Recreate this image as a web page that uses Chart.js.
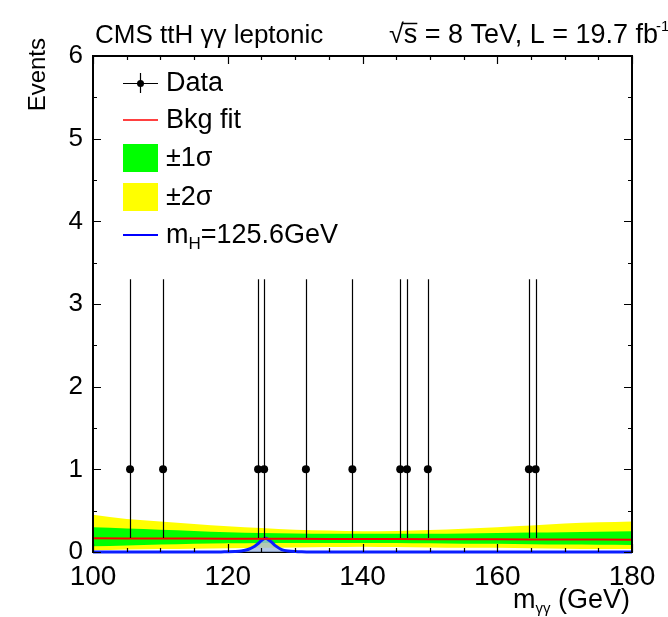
<!DOCTYPE html>
<html>
<head>
<meta charset="utf-8">
<script src="https://cdn.jsdelivr.net/npm/chart.js@4/dist/chart.umd.min.js"></script>
<style>
  body { margin: 0; background: #fff; }
  canvas { display: block; }
</style>
</head>
<body>
<canvas id="mggChart" width="668" height="617"></canvas>
<script>
// observed diphoton events (one per entry) with asymmetric Poisson errors
const dataMass = [105.5, 110.4, 124.5, 125.4, 131.6, 138.5, 145.6, 146.6, 149.7, 164.7, 165.7];
const dataEvents = [1, 1, 1, 1, 1, 1, 1, 1, 1, 1, 1];
const dataErrLow = [0.83, 0.83, 0.83, 0.83, 0.83, 0.83, 0.83, 0.83, 0.83, 0.83, 0.83];
const dataErrHigh = [2.30, 2.30, 2.30, 2.30, 2.30, 2.30, 2.30, 2.30, 2.30, 2.30, 2.30];

// background fit and its uncertainty bands
const bkgMass = [100, 105, 110, 115, 120, 125, 130, 135, 140, 145, 150, 155, 160, 165, 170, 175, 180];
const bkgFit = [0.165, 0.164, 0.163, 0.162, 0.161, 0.160, 0.159, 0.158, 0.157, 0.156, 0.155, 0.154, 0.153, 0.152, 0.151, 0.150, 0.149];
const oneSigmaUp = [0.30, 0.285, 0.27, 0.255, 0.24, 0.23, 0.225, 0.22, 0.22, 0.22, 0.22, 0.225, 0.23, 0.235, 0.24, 0.245, 0.25];
const oneSigmaDown = [0.07, 0.08, 0.09, 0.10, 0.105, 0.11, 0.11, 0.11, 0.11, 0.11, 0.105, 0.10, 0.10, 0.095, 0.09, 0.088, 0.085];
const twoSigmaUp = [0.45, 0.40, 0.37, 0.34, 0.31, 0.29, 0.27, 0.26, 0.25, 0.255, 0.265, 0.28, 0.30, 0.32, 0.345, 0.36, 0.37];
const twoSigmaDown = [0.02, 0.03, 0.035, 0.04, 0.045, 0.05, 0.055, 0.06, 0.065, 0.06, 0.055, 0.05, 0.05, 0.045, 0.04, 0.037, 0.035];

// signal shape for mH = 125.6 GeV
const sigMass = [100, 118, 119, 120, 121, 122, 123, 124, 124.5, 125, 125.6, 126, 126.5, 127, 128, 129, 130, 131, 132, 133, 180];
const sigEvents = [0, 0, 0.001, 0.003, 0.006, 0.012, 0.03, 0.07, 0.10, 0.14, 0.165, 0.15, 0.12, 0.08, 0.03, 0.012, 0.005, 0.002, 0.001, 0, 0];

const xTickLabels = [100, 120, 140, 160, 180];
const yTickLabels = [0, 1, 2, 3, 4, 5, 6];

const FONT = '"Liberation Sans", Arial, Helvetica, sans-serif';

function pts(xs, ys) {
    return xs.map((x, i) => ({ x: x, y: ys[i] }));
}

// vertical error bars on the data points
const errorBars = {
    id: 'errorBars',
    afterDatasetsDraw(chart) {
        const ctx = chart.ctx;
        const xs = chart.scales.x, ys = chart.scales.y;
        ctx.save();
        ctx.strokeStyle = '#000';
        ctx.lineWidth = 1.2;
        dataMass.forEach((m, i) => {
            const px = Math.round(xs.getPixelForValue(m)) + 0.5;
            ctx.beginPath();
            ctx.moveTo(px, ys.getPixelForValue(dataEvents[i] - dataErrLow[i]));
            ctx.lineTo(px, ys.getPixelForValue(dataEvents[i] + dataErrHigh[i]));
            ctx.stroke();
        });
        ctx.restore();
    }
};

// ROOT style frame with inward ticks on all four sides
const frame = {
    id: 'frame',
    beforeDatasetsDraw(chart) {
        const { ctx, chartArea: a } = chart;
        ctx.save();
        ctx.strokeStyle = '#000';
        ctx.lineWidth = 2;
        ctx.beginPath();
        ctx.moveTo(a.left, a.bottom);
        ctx.lineTo(a.right, a.bottom);
        ctx.stroke();
        ctx.restore();
    },
    afterDatasetsDraw(chart) {
        const { ctx, chartArea: a } = chart;
        const xs = chart.scales.x, ys = chart.scales.y;
        ctx.save();
        ctx.strokeStyle = '#000';
        ctx.lineWidth = 2;
        ctx.beginPath();
        ctx.moveTo(a.left, a.bottom + 1);
        ctx.lineTo(a.left, a.top);
        ctx.lineTo(a.right, a.top);
        ctx.lineTo(a.right, a.bottom + 1);
        ctx.stroke();

        ctx.lineWidth = 1.2;
        ctx.beginPath();
        const xMin = xTickLabels[0], xMax = xTickLabels[xTickLabels.length - 1];
        for (let v = xMin; v <= xMax; v += 5) {
            const len = (v - xMin) % 20 === 0 ? 8 : 4;
            const px = Math.round(xs.getPixelForValue(v)) + 0.5;
            ctx.moveTo(px, a.bottom);
            ctx.lineTo(px, a.bottom - len);
            ctx.moveTo(px, a.top);
            ctx.lineTo(px, a.top + len);
        }
        const yMax = yTickLabels[yTickLabels.length - 1];
        for (let v = 0; v <= yMax; v += 0.5) {
            const len = v % 1 === 0 ? 8 : 4;
            const py = Math.round(ys.getPixelForValue(v)) + 0.5;
            ctx.moveTo(a.left, py);
            ctx.lineTo(a.left + len, py);
            ctx.moveTo(a.right, py);
            ctx.lineTo(a.right - len, py);
        }
        ctx.stroke();
        ctx.restore();
    }
};

// header, axis titles and legend
const annotations = {
    id: 'annotations',
    afterDraw(chart) {
        const { ctx, chartArea: a } = chart;
        ctx.save();
        ctx.fillStyle = '#000';
        ctx.textBaseline = 'alphabetic';

        // header
        ctx.font = '26px ' + FONT;
        ctx.textAlign = 'left';
        ctx.fillText('CMS ttH \u03b3\u03b3 leptonic', 95, 43);

        ctx.font = '27px ' + FONT;
        ctx.wordSpacing = '2px';
        const rest = ' = 8 TeV, L = 19.7 fb';
        const wRoot = ctx.measureText('\u221a').width;
        const wS = ctx.measureText('s').width;
        const wRest = ctx.measureText(rest).width;
        const endX = 658;
        let x0 = endX - wRest - wS - wRoot;
        ctx.fillText('\u221a', x0, 43);
        ctx.fillText('s', x0 + wRoot, 43);
        ctx.lineWidth = 1.5;
        ctx.strokeStyle = '#000';
        ctx.beginPath();
        ctx.moveTo(x0 + wRoot - 2, 23.5);
        ctx.lineTo(x0 + wRoot + wS, 23.5);
        ctx.stroke();
        ctx.fillText(rest, x0 + wRoot + wS, 43);
        ctx.wordSpacing = '0px';
        ctx.font = '15px ' + FONT;
        ctx.fillText('-1', endX - 2, 31);

        // y title
        ctx.save();
        ctx.translate(45, 38);
        ctx.rotate(-Math.PI / 2);
        ctx.font = '24px ' + FONT;
        ctx.textAlign = 'right';
        ctx.fillText('Events', 0, 0);
        ctx.restore();

        // x title, right aligned to the frame
        ctx.font = '27px ' + FONT;
        const wM = ctx.measureText('m').width;
        const wGeV = ctx.measureText(' (GeV)').width;
        ctx.font = '15px ' + FONT;
        const wSub = ctx.measureText('\u03b3\u03b3').width;
        let tx = a.right - 2 - wGeV - wSub - wM;
        ctx.font = '27px ' + FONT;
        ctx.fillText('m', tx, 608);
        ctx.font = '15px ' + FONT;
        ctx.fillText('\u03b3\u03b3', tx + wM, 613);
        ctx.font = '27px ' + FONT;
        ctx.fillText(' (GeV)', tx + wM + wSub, 608);

        // legend
        const lx0 = 123, lx1 = 158, tx0 = 166;
        const rows = [83, 120, 158, 197, 235];
        ctx.strokeStyle = '#000';
        ctx.lineWidth = 1.2;
        ctx.beginPath();
        ctx.moveTo(lx0, rows[0] + 0.5);
        ctx.lineTo(lx1, rows[0] + 0.5);
        ctx.moveTo(140.5, rows[0] - 10);
        ctx.lineTo(140.5, rows[0] + 10);
        ctx.stroke();
        ctx.beginPath();
        ctx.arc(140.5, rows[0] + 0.5, 3.5, 0, Math.PI * 2);
        ctx.fill();

        ctx.strokeStyle = '#ff0000';
        ctx.lineWidth = 1.5;
        ctx.beginPath();
        ctx.moveTo(lx0, rows[1]);
        ctx.lineTo(lx1, rows[1]);
        ctx.stroke();

        ctx.fillStyle = '#00ff00';
        ctx.fillRect(lx0, rows[2] - 14, lx1 - lx0, 28);
        ctx.fillStyle = '#ffff00';
        ctx.fillRect(lx0, rows[3] - 14, lx1 - lx0, 28);

        ctx.strokeStyle = '#0000ff';
        ctx.lineWidth = 2;
        ctx.beginPath();
        ctx.moveTo(lx0, rows[4]);
        ctx.lineTo(lx1, rows[4]);
        ctx.stroke();

        ctx.fillStyle = '#000';
        ctx.font = '27px ' + FONT;
        ctx.textBaseline = 'middle';
        ctx.fillText('Data', tx0, rows[0] + 1);
        ctx.fillText('Bkg fit', tx0, rows[1] + 1);
        ctx.fillText('\u00b11\u03c3', tx0, rows[2] + 1);
        ctx.fillText('\u00b12\u03c3', tx0, rows[3] + 1);
        const wm = ctx.measureText('m').width;
        ctx.fillText('m', tx0, rows[4] + 1);
        ctx.font = '17px ' + FONT;
        const wH = ctx.measureText('H').width;
        ctx.fillText('H', tx0 + wm, rows[4] + 9);
        ctx.font = '27px ' + FONT;
        ctx.fillText('=125.6GeV', tx0 + wm + wH, rows[4] + 1);
        ctx.restore();
    }
};

const bandStyle = { borderWidth: 0, pointRadius: 0, cubicInterpolationMode: 'monotone' };

new Chart(document.getElementById('mggChart'), {
    type: 'line',
    data: {
        datasets: [
            { // 0
                label: 'Data',
                type: 'scatter',
                data: pts(dataMass, dataEvents),
                pointRadius: 4,
                pointBackgroundColor: '#000',
                pointBorderWidth: 0,
                order: 1
            },
            { // 1
                label: 'Bkg fit',
                data: pts(bkgMass, bkgFit),
                borderColor: '#ff0000',
                borderWidth: 2,
                pointRadius: 0,
                order: 2
            },
            { // 2
                label: 'Signal',
                data: pts(sigMass, sigEvents),
                borderColor: '#0a1eff',
                borderWidth: 3,
                backgroundColor: 'rgba(160, 185, 225, 0.8)',
                fill: 'origin',
                pointRadius: 0,
                tension: 0.3,
                clip: { left: 0, top: 0, right: 0, bottom: 3 },
                order: 3
            },
            Object.assign({ // 3
                label: '+1 sigma',
                data: pts(bkgMass, oneSigmaUp),
                backgroundColor: '#00ff00',
                fill: 4,
                order: 4
            }, bandStyle),
            Object.assign({ // 4
                label: '-1 sigma',
                data: pts(bkgMass, oneSigmaDown),
                fill: false,
                order: 5
            }, bandStyle),
            Object.assign({ // 5
                label: '+2 sigma',
                data: pts(bkgMass, twoSigmaUp),
                backgroundColor: '#ffff00',
                fill: 6,
                order: 6
            }, bandStyle),
            Object.assign({ // 6
                label: '-2 sigma',
                data: pts(bkgMass, twoSigmaDown),
                fill: false,
                order: 7
            }, bandStyle)
        ]
    },
    options: {
        responsive: false,
        animation: false,
        layout: { padding: { top: 56, right: 36, left: 0, bottom: 0 } },
        plugins: {
            legend: { display: false },
            tooltip: { enabled: false },
            filler: { propagate: false }
        },
        scales: {
            x: {
                type: 'linear',
                min: xTickLabels[0],
                max: xTickLabels[xTickLabels.length - 1],
                afterBuildTicks: s => { s.ticks = xTickLabels.map(v => ({ value: v })); },
                ticks: {
                    autoSkip: false,
                    maxRotation: 0,
                    color: '#000',
                    padding: 8,
                    font: { family: FONT, size: 28 }
                },
                grid: { display: false, drawTicks: false },
                border: { display: false },
                afterFit: s => { s.height = 65; }
            },
            y: {
                type: 'linear',
                min: yTickLabels[0],
                max: yTickLabels[yTickLabels.length - 1],
                afterBuildTicks: s => { s.ticks = yTickLabels.map(v => ({ value: v })); },
                ticks: {
                    color: '#000',
                    padding: 10,
                    font: { family: FONT, size: 26 }
                },
                grid: { display: false, drawTicks: false },
                border: { display: false },
                afterFit: s => { s.width = 93; }
            }
        }
    },
    plugins: [frame, errorBars, annotations]
});
</script>
</body>
</html>
